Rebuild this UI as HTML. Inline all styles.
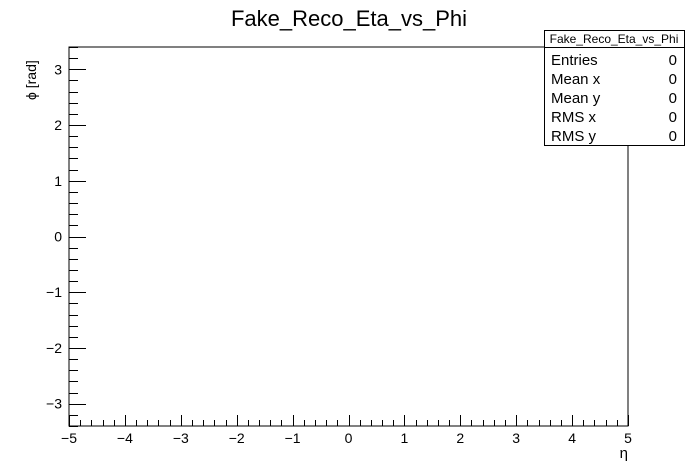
<!DOCTYPE html>
<html><head><meta charset="utf-8"><style>
body{margin:0;background:#fff;}
svg{display:block;font-family:"Liberation Sans",Arial,sans-serif;}
</style></head><body>
<svg id="c" width="698" height="474">
<text x="349" y="26" font-size="22" text-anchor="middle">Fake_Reco_Eta_vs_Phi</text>
<rect x="69" y="47" width="559" height="379" fill="none" stroke="#000" stroke-width="1"/>
<g id="ax"></g>
<text x="628" y="458" font-size="15" text-anchor="end">η</text>
<text transform="translate(36,100) rotate(-90)" font-size="14" text-anchor="start">ϕ [rad]</text>
<g>
<rect x="544.5" y="30.5" width="140" height="115" fill="#fff" stroke="#000"/>
<line x1="544.5" y1="47.5" x2="684.5" y2="47.5" stroke="#000"/>
<text x="614" y="43" font-size="12" text-anchor="middle">Fake_Reco_Eta_vs_Phi</text>
<g font-size="15">
<text x="551" y="65">Entries</text><text x="677" y="65" text-anchor="end">0</text>
<text x="551" y="84">Mean x</text><text x="677" y="84" text-anchor="end">0</text>
<text x="551" y="103">Mean y</text><text x="677" y="103" text-anchor="end">0</text>
<text x="551" y="122">RMS x</text><text x="677" y="122" text-anchor="end">0</text>
<text x="551" y="141">RMS y</text><text x="677" y="141" text-anchor="end">0</text>
</g></g>
</svg>
<script>
const xTicks=[-5,-4,-3,-2,-1,0,1,2,3,4,5];
const yTicks=[-3,-2,-1,0,1,2,3];
const xRange=[-5,5];
const yRange=[-3.4,3.4];
const L=69,R=628,T=47,B=426;
const sx=v=>L+(v-xRange[0])/(xRange[1]-xRange[0])*(R-L);
const sy=v=>B-(v-yRange[0])/(yRange[1]-yRange[0])*(B-T);
const g=document.getElementById('ax');
const NS='http://www.w3.org/2000/svg';
function ln(x1,y1,x2,y2){const l=document.createElementNS(NS,'line');l.setAttribute('x1',x1);l.setAttribute('y1',y1);l.setAttribute('x2',x2);l.setAttribute('y2',y2);l.setAttribute('stroke','#000');


g.appendChild(l);}
function tx(x,y,s,a){const t=document.createElementNS(NS,'text');t.setAttribute('x',x);t.setAttribute('y',y);t.setAttribute('font-size','14');t.setAttribute('text-anchor',a);t.textContent=s;


g.appendChild(t);}
const fmt=v=>v<0?'\u2212'+(-v):String(v);
for(let v=xRange[0];v<=xRange[1]+1e-9;v+=0.2){const r=Math.round(v*5)/5;const maj=Math.abs(r-Math.round(r))<1e-6;const x=Math.round(sx(r))+0.5;ln(x,B,x,B-(maj?11:6));}
xTicks.forEach(v=>tx(sx(v),443,fmt(v),'middle'));
for(let v=-3.4;v<=3.4+1e-9;v+=0.2){const r=Math.round(v*5)/5;const maj=Math.abs(r-Math.round(r))<1e-6;const y=Math.round(sy(r))+0.5;ln(L,y,L+(maj?17:9),y);}
yTicks.forEach(v=>tx(62,sy(v)+5,fmt(v),'end'));
</script>
</body></html>
